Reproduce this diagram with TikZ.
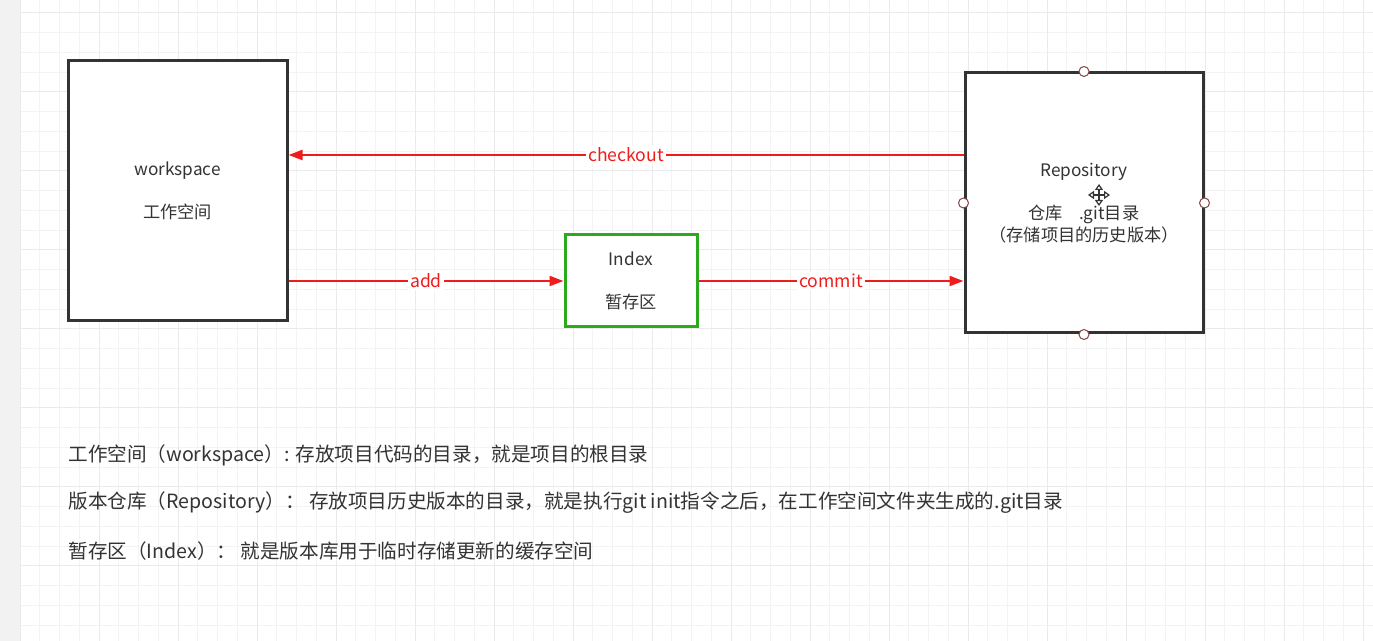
\documentclass[tikz,border=0pt]{standalone}
\usepackage{fontspec}
\setmainfont{Noto Sans CJK SC}
\usepackage{tikz}
\usetikzlibrary{arrows.meta,positioning,calc}
\definecolor{inkgray}{RGB}{51,51,51}
\definecolor{gitred}{RGB}{240,28,28}
\definecolor{stagegreen}{RGB}{44,170,30}
\definecolor{gridminor}{RGB}{243,243,243}
\definecolor{gridmajor}{RGB}{234,234,234}
\definecolor{sidegray}{RGB}{242,242,242}
\definecolor{handlered}{RGB}{130,70,70}
\tikzset{area/.style={draw=inkgray, line width=1.5pt, fill=white, align=center, text=inkgray, font=\fontsize{8.6}{21.5}\selectfont}, gbox/.style={area, draw=stagegreen}, flow/.style={-{Triangle[length=7pt,width=5pt]}, draw=gitred, line width=1.1pt}, flowlabel/.style={fill=white, text=gitred, inner sep=1pt, font=\fontsize{8.8}{10}\selectfont}, note/.style={anchor=west, text=inkgray, inner sep=0pt, font=\fontsize{9.8}{11}\selectfont}, handle/.style={circle, draw=handlered, fill=white, line width=0.5pt, minimum size=5pt, inner sep=0pt}}

\begin{document}
\begin{tikzpicture}[x=0.5pt,y=-0.5pt]
\useasboundingbox (0,0) rectangle (1373,641);
\fill[white] (0,0) rectangle (1373,641);
% grid paper
\foreach \gx in {20,39.75,...,1373} \draw[gridminor,line width=0.5pt] (\gx,0)--(\gx,641);
\foreach \gy in {-6.75,13,...,641} \draw[gridminor,line width=0.5pt] (20,\gy)--(1373,\gy);
\foreach \gx in {20,99,...,1373} \draw[gridmajor,line width=0.5pt] (\gx,0)--(\gx,641);
\foreach \gy in {13,92,...,641} \draw[gridmajor,line width=0.5pt] (20,\gy)--(1373,\gy);
\fill[sidegray] (0,0) rectangle (20,641);
% areas
\node[area,minimum width=109.5pt,minimum height=130pt] (ws) at (177.5,191) {workspace\\工作空间};
\node[gbox,minimum width=66pt,minimum height=46pt] (idx) at (631,281) {Index\\暂存区};
\node[area,minimum width=119pt,minimum height=130pt,font=\fontsize{8.6}{11}\selectfont] (repo) at (1084,203) {Repository\\[10.5pt]仓库\hspace{8pt}.git目录\\（存储项目的历史版本）};
\foreach \a in {north,south,west,east} \node[handle] (h-\a) at (repo.\a) {};
\coordinate (co) at (626,155);
\draw[flow] (repo.west |- co) -- node[flowlabel]{checkout} (ws.east |- co);
\draw[flow] (ws.east |- idx.west) -- node[flowlabel]{add} (idx.west);
\draw[flow] (idx.east) -- node[flowlabel]{commit} (repo.west |- idx.east);
% move cursor
\draw[inkgray,line width=0.6pt,{Triangle[open,length=3pt,width=4pt]}-{Triangle[open,length=3pt,width=4pt]}] (1099,184)--(1099,206);
\draw[inkgray,line width=0.6pt,{Triangle[open,length=3pt,width=4pt]}-{Triangle[open,length=3pt,width=4pt]}] (1088,195)--(1110,195);
% notes
\node[note] (n1) at (68,455) {工作空间（workspace）: 存放项目代码的目录，就是项目的根目录};
\node[note,below=24pt of n1.west,anchor=west] (n2) {版本仓库（Repository）： 存放项目历史版本的目录，就是执行git init指令之后，在工作空间文件夹生成的.git目录};
\node[note,below=24pt of n2.west,anchor=west] (n3) {暂存区（Index）： 就是版本库用于临时存储更新的缓存空间};
\end{tikzpicture}
\end{document}
